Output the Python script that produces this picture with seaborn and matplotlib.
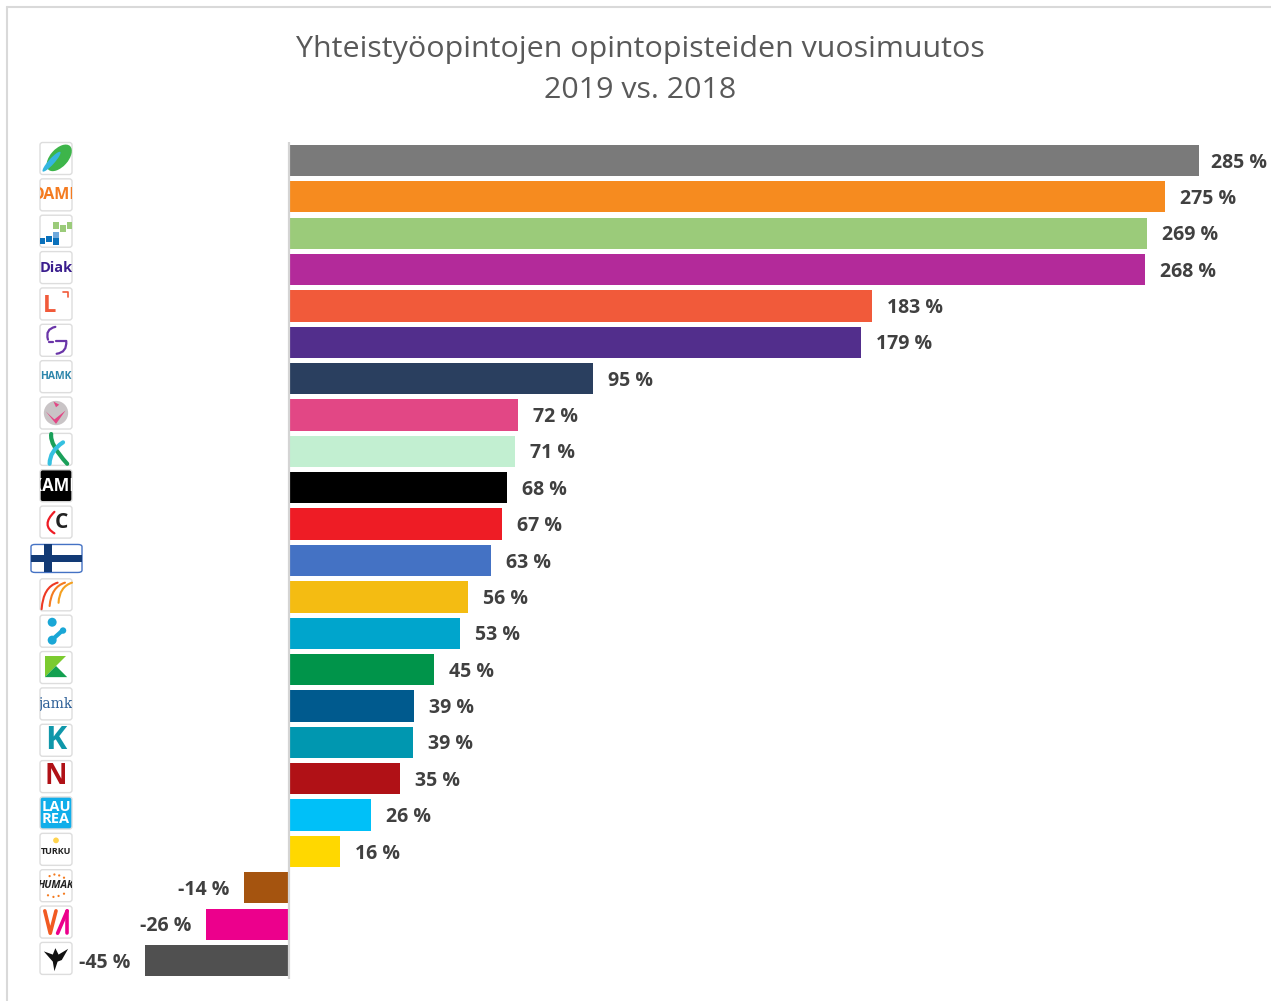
import matplotlib.pyplot as plt
import seaborn as sns
import pandas as pd
from matplotlib.lines import Line2D
from matplotlib.patches import Circle, Ellipse, FancyBboxPatch, PathPatch, Polygon, Rectangle
from matplotlib.path import Path
from matplotlib.transforms import Affine2D, Bbox, TransformedBbox

# values, the labels show them rounded
schools = ["Centria", "OAMK", "Metropolia", "Diak", "Lapin AMK", "Saimia", "HAMK", "KAMK",
           "Satakunta", "XAMK", "Centria AMK", "Keskiarvo", "Seinäjoki", "Arcada", "Karelia",
           "JAMK", "Kajaani", "Novia", "Laurea", "Turku", "Humak", "Vaasa", "Haaga-Helia"]
change = [285, 274.4, 268.6, 267.9, 182.7, 179.1, 95.2, 71.7, 70.9, 68.2, 66.6, 63.3,
          56.1, 53.4, 45.3, 39.2, 38.8, 34.8, 25.8, 16.1, -14.1, -26.0, -45.0]
labels = ["285", "275", "269", "268", "183", "179", "95", "72", "71", "68", "67", "63",
          "56", "53", "45", "39", "39", "35", "26", "16", "-14", "-26", "-45"]
colors = ["#7A7A7A", "#F68B1F", "#9BCB7A", "#B32A9A", "#F15A3A", "#522E8C", "#2A3F5F", "#E24785",
          "#C2EFD1", "#000000", "#EE1C25", "#4472C4", "#F4BC12", "#00A5CC", "#00944A", "#005A8E",
          "#0097B0", "#B01116", "#00C0F8", "#FFD800", "#A5540F", "#EC008C", "#505050"]
title = "Yhteistyöopintojen opintopisteiden vuosimuutos\n2019 vs. 2018"

W, H = 1271, 1001
sns.set_style("white")
plt.rcParams["font.family"] = ["Open Sans", "DejaVu Sans"]

df = pd.DataFrame({"school": schools, "change": change})

fig = plt.figure(figsize=(W / 100, H / 100), dpi=100)
ax = fig.add_axes([8 / W, 1 - 978.7 / H, (W - 8) / W, (978.7 - 142.3) / H])
sns.barplot(data=df, y="school", x="change", hue="school", palette=colors, legend=False,
            width=0.86, saturation=1, linewidth=0, ax=ax)
ax.set_xlim(-88.0, 307.5)
ax.set_ylim(22.5, -0.5)
ax.set_xticks([])
ax.set_yticks([])
ax.set_xlabel("")
ax.set_ylabel("")
sns.despine(ax=ax, left=True, bottom=True)
ax.axvline(0, color="#D4D4D4", lw=1.6, zorder=5)

for i, v in enumerate(change):
    dx = 10.8 if v > 0 else -10.8
    if i == 0:
        dx = 8.5  # the top label sits closer to its bar
    ax.annotate(f"{labels[i]} %", (v, i), xytext=(dx, -1.5),
                textcoords="offset points", ha="left" if v > 0 else "right", va="center",
                fontsize=14, fontweight="bold", color="#404040")

fig.text(640.5 / W, 1 - 70 / H, title, ha="center", va="center", fontsize=21.9,
         color="#595959", linespacing=1.56)

# chart frame, cut off at the right and the bottom
frame = dict(color="#D9D9D9", lw=1.5, transform=fig.transFigure)
fig.add_artist(Line2D([7 / W, 7 / W], [0, 1 - 7 / H], **frame))
fig.add_artist(Line2D([7 / W, 1], [1 - 7 / H, 1 - 7 / H], **frame))


# the logos: each one is drawn in a unit box next to its bar
def logo_box(i, x0=40, w=32, h=32, face="white", edge="#DDDDDD"):
    yc = 158.5 + i * 36.36
    tr = Affine2D().scale(w, h).translate(x0, H - yc - h / 2)
    box = FancyBboxPatch((0, 0), 1, 1, boxstyle="round,pad=0,rounding_size=0.08", fc=face, ec=edge,
                         lw=1, transform=tr, clip_on=False, zorder=3)
    ax.add_patch(box)
    return tr, box


def logo_text(i, s, color, size, weight="bold", x=0.5, y=0.5, face="white", style="normal", family=None):
    tr, box = logo_box(i, face=face)
    t = ax.text(x, y, s, transform=tr, ha="center", va="center", color=color, fontsize=size,
                fontweight=weight, fontstyle=style, family=family, zorder=4, linespacing=0.9,
                clip_on=True)
    # text is only cut by a rectangle, a clip path does not work on it
    t.set_clip_box(TransformedBbox(Bbox.unit(), tr))
    return tr


def shape(tr, patch):
    patch.set_transform(tr)
    patch.set_clip_on(False)
    patch.set_zorder(4)
    ax.add_patch(patch)


def stroke(tr, xs, ys, color, lw=2):
    ax.add_line(Line2D(xs, ys, color=color, lw=lw, transform=tr, clip_on=False, zorder=4,
                       solid_capstyle="round"))


def curve(tr, p0, p1, p2, color, lw=2):
    path = Path([p0, p1, p2], [Path.MOVETO, Path.CURVE3, Path.CURVE3])
    shape(tr, PathPatch(path, fc="none", ec=color, lw=lw, capstyle="round"))


tr, _ = logo_box(0)
shape(tr, Ellipse((0.6, 0.52), 0.56, 1.0, angle=-42, fc="#3DB54A", ec="none"))
shape(tr, Ellipse((0.36, 0.4), 0.18, 0.82, angle=-42, fc="#35B6E0", ec="none"))

logo_text(1, "OAMK", "#F47B20", 11.5)

tr, _ = logo_box(2)
for x, y, c in [(0, 0.1, "#0B71BB"), (0.2, 0.16, "#0B71BB"), (0.42, 0.08, "#0B71BB"),
                (0.42, 0.28, "#6EA8DC"), (0.42, 0.58, "#9BCB7A"), (0.64, 0.48, "#9BCB7A"),
                (0.84, 0.58, "#9BCB7A")]:
    shape(tr, Rectangle((x, y), 0.16, 0.2, fc=c, ec="none"))

logo_text(3, "Diak", "#3B1E8E", 10.5)

tr = logo_text(4, "L", "#F15A3A", 17, x=0.3, y=0.42)
stroke(tr, [0.72, 0.88, 0.88], [0.88, 0.88, 0.72], "#F15A3A", 1.2)

tr, _ = logo_box(5)
curve(tr, (0.48, 0.92), (0.15, 0.85), (0.25, 0.52), "#6A35A8", 1.6)
curve(tr, (0.82, 0.48), (0.85, 0.12), (0.52, 0.08), "#6A35A8", 1.6)
stroke(tr, [0.5, 0.82], [0.48, 0.48], "#6A35A8", 1.6)
stroke(tr, [0.28, 0.42], [0.45, 0.45], "#6A35A8", 1.6)

logo_text(6, "HAMK", "#2E86AB", 7.5)

tr, _ = logo_box(7)
shape(tr, Circle((0.5, 0.5), 0.38, fc="#C9C4C6", ec="none"))
shape(tr, Polygon([[0.18, 0.55], [0.45, 0.3], [0.8, 0.58], [0.5, 0.16]], fc="#E24785", ec="none"))
shape(tr, Polygon([[0.42, 0.86], [0.6, 0.76], [0.5, 0.68]], fc="#E24785", ec="none"))

tr, _ = logo_box(8)
curve(tr, (0.35, 0.98), (0.3, 0.65), (0.85, 0.05), "#1AA05A", 3)
curve(tr, (0.72, 0.72), (0.3, 0.45), (0.3, 0.05), "#35C0E0", 3)

logo_text(9, "XAMK", "white", 12, face="black")

tr = logo_text(10, "C", "#222222", 15, x=0.68, y=0.48)
curve(tr, (0.45, 0.82), (0.02, 0.4), (0.45, 0.15), "#EE1C25", 1.6)

tr, _ = logo_box(11, x0=31, w=51, h=28, edge="#4472C4")
shape(tr, Rectangle((0.26, 0), 0.15, 1, fc="#123A75", ec="none"))
shape(tr, Rectangle((0, 0.38), 1, 0.24, fc="#123A75", ec="none"))

tr, _ = logo_box(12)
curve(tr, (0.05, 0.05), (0.1, 0.75), (0.55, 0.88), "#EE3A24", 1.5)
curve(tr, (0.3, 0.15), (0.35, 0.75), (0.78, 0.88), "#F47B20", 1.5)
curve(tr, (0.58, 0.25), (0.6, 0.75), (1.0, 0.88), "#F4A020", 1.5)

tr, _ = logo_box(13)
stroke(tr, [0.4, 0.7], [0.25, 0.52], "#1AA7D6", 3)
shape(tr, Circle((0.38, 0.78), 0.14, fc="#1AA7D6", ec="none"))
shape(tr, Circle((0.72, 0.52), 0.1, fc="#1AA7D6", ec="none"))
shape(tr, Circle((0.38, 0.22), 0.14, fc="#1AA7D6", ec="none"))

tr, _ = logo_box(14)
shape(tr, Polygon([[0.15, 0.2], [0.15, 0.85], [0.8, 0.85]], fc="#7BCB2F", ec="none"))
shape(tr, Polygon([[0.15, 0.2], [0.85, 0.2], [0.5, 0.55]], fc="#13A050", ec="none"))

logo_text(15, "jamk", "#2C5F97", 10, family="DejaVu Serif", weight="normal")
logo_text(16, "K", "#0F97AA", 23)
logo_text(17, "N", "#B01116", 20)
logo_text(18, "LAU\nREA", "white", 10.5, face="#11AEEA")

tr = logo_text(19, "TURKU", "#222222", 6.5, y=0.42)
shape(tr, Circle((0.5, 0.78), 0.09, fc="#FFD34D", ec="none"))

tr = logo_text(20, "HUMAK", "#222222", 7.5, style="italic")
for x, y in [(0.3, 0.8), (0.45, 0.85), (0.6, 0.82), (0.75, 0.75), (0.25, 0.2), (0.42, 0.15), (0.58, 0.18), (0.75, 0.25)]:
    shape(tr, Circle((x, y), 0.035, fc="#F47B20", ec="none"))

tr, _ = logo_box(21)
stroke(tr, [0.15, 0.32, 0.5], [0.85, 0.15, 0.85], "#F15A22", 2.6)
stroke(tr, [0.55, 0.85], [0.15, 0.85], "#EC008C", 2.6)
stroke(tr, [0.85, 0.85], [0.15, 0.85], "#EC008C", 2.6)

tr, _ = logo_box(22)
shape(tr, Polygon([[0.12, 0.72], [0.4, 0.62], [0.48, 0.82], [0.58, 0.62], [0.88, 0.8], [0.68, 0.45],
                   [0.55, 0.4], [0.45, 0.1], [0.4, 0.4]], fc="#111111", ec="none"))

fig.savefig("out.png", dpi=100)
